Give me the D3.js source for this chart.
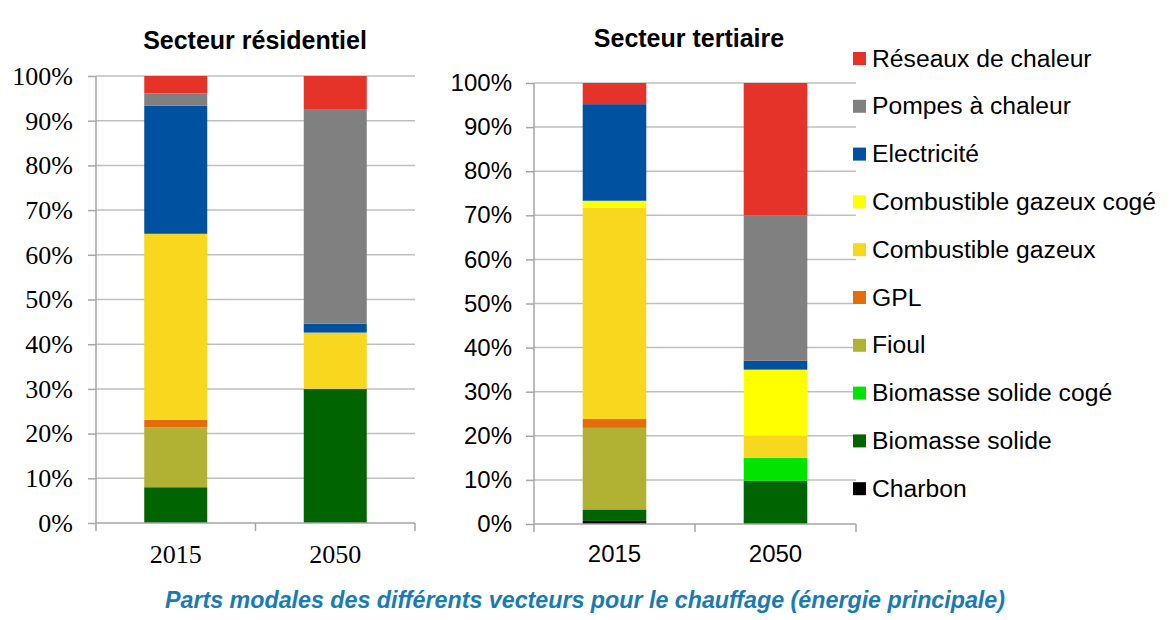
<!DOCTYPE html>
<html>
<head>
<meta charset="utf-8">
<script src="https://cdn.jsdelivr.net/npm/d3@7"></script>
<style>
  body { margin: 0; background: #fff; }
  .grid line { stroke: #bfbfbf; stroke-width: 1.5; }
  .axis path, .axis line { stroke: #a6a6a6; stroke-width: 1.5; }
</style>
</head>
<body>
<div id="chart"></div>
<script>
// legend order (top to bottom)
var categories = ["Réseaux de chaleur", "Pompes à chaleur", "Electricité",
    "Combustible gazeux cogé", "Combustible gazeux", "GPL", "Fioul",
    "Biomasse solide cogé", "Biomasse solide", "Charbon"];
var colors = ["#e5332a", "#808080", "#0052a0", "#ffff00", "#f8d81e",
    "#e46c0a", "#b1b233", "#00e400", "#006400", "#000000"];
var years = ["2015", "2050"];
var yTicks = [0, 10, 20, 30, 40, 50, 60, 70, 80, 90, 100];

// shares in %, same order as categories
var residentiel2015 = [3.9, 2.7, 28.7, 0, 41.6, 1.7, 13.4, 0, 8.0, 0];
var residentiel2050 = [7.4, 48.0, 2.0, 0, 12.6, 0, 0, 0, 30.0, 0];
var tertiaire2015 = [4.8, 0, 21.9, 1.6, 47.9, 2.0, 18.5, 0, 2.6, 0.7];
var tertiaire2050 = [30.0, 33.0, 2.0, 15.0, 5.0, 0, 0, 5.2, 9.8, 0];

var W = 1175, H = 620;
var svg = d3.select("#chart").append("svg")
    .attr("width", W).attr("height", H);

var color = d3.scaleOrdinal().domain(categories).range(colors);

function rows(v2015, v2050) {
    var out = [];
    [v2015, v2050].forEach(function (vals, j) {
        var r = {year: years[j]};
        categories.forEach(function (c, i) { r[c] = vals[i]; });
        out.push(r);
    });
    return out;
}

function chart(opts) {
    var data = rows(opts.v2015, opts.v2050);
    var x = d3.scaleBand().domain(years)
        .range([opts.x0, opts.x1])
        .paddingInner(0.605).paddingOuter(0.3025);
    var y = d3.scaleLinear().domain([0, 100]).range([opts.y0, opts.y1]);

    var g = svg.append("g");

    // gridlines
    g.append("g").attr("class", "grid")
        .selectAll("line").data(yTicks.slice(1)).enter().append("line")
        .attr("x1", opts.x0).attr("x2", opts.x1)
        .attr("y1", function (d) { return y(d); })
        .attr("y2", function (d) { return y(d); });

    // stacked bars, bottom series = last category
    var stack = d3.stack().keys(categories.slice().reverse());
    var series = stack(data);
    g.selectAll(".layer").data(series).enter().append("g")
        .attr("fill", function (d) { return color(d.key); })
        .selectAll("rect").data(function (d) { return d; }).enter().append("rect")
        .attr("x", function (d) { return x(d.data.year); })
        .attr("width", x.bandwidth())
        .attr("y", function (d) { return y(d[1]); })
        .attr("height", function (d) { return y(d[0]) - y(d[1]); });

    // y axis
    var yAxis = d3.axisLeft(y).tickValues(yTicks)
        .tickFormat(function (d) { return d + "%"; })
        .tickSize(8).tickPadding(opts.pad);
    var ya = g.append("g").attr("class", "axis")
        .attr("transform", "translate(" + opts.x0 + ",0)")
        .call(yAxis);
    ya.select(".domain").attr("d", "M0," + opts.y0 + "V" + opts.y1);
    ya.selectAll("text")
        .style("font-family", opts.font).style("font-size", opts.size + "px")
        .attr("fill", "#000");

    // x axis with ticks between categories
    var xa = g.append("g").attr("class", "axis")
        .attr("transform", "translate(0," + opts.y0 + ")");
    xa.append("line").attr("x1", opts.x0).attr("x2", opts.x1);
    var step = x.step();
    var tickPos = [opts.x0, x(years[0]) + x.bandwidth() / 2 + step / 2, opts.x1];
    xa.selectAll(".tk").data(tickPos).enter().append("line")
        .attr("x1", function (d) { return d; }).attr("x2", function (d) { return d; })
        .attr("y1", 0).attr("y2", 8);
    xa.selectAll("text").data(years).enter().append("text")
        .attr("x", function (d) { return x(d) + x.bandwidth() / 2; })
        .attr("y", opts.xLabY)
        .attr("text-anchor", "middle")
        .style("font-family", opts.font).style("font-size", opts.size + "px")
        .text(function (d) { return d; });

    // title
    svg.append("text")
        .attr("x", opts.tx).attr("y", opts.ty)
        .attr("text-anchor", "middle")
        .style("font-family", "'Liberation Sans', Arial, sans-serif")
        .style("font-weight", "bold").style("font-size", "25px")
        .text(opts.title);
}

chart({title: "Secteur résidentiel", v2015: residentiel2015, v2050: residentiel2050,
    x0: 96, x1: 415, y0: 523, y1: 76, tx: 255, ty: 49,
    font: "'Liberation Serif', 'DejaVu Serif', serif", size: 26, pad: 15, xLabY: 40});
chart({title: "Secteur tertiaire", v2015: tertiaire2015, v2050: tertiaire2050,
    x0: 534, x1: 856, y0: 524, y1: 83, tx: 689, ty: 47,
    font: "'Liberation Sans', Arial, sans-serif", size: 24, pad: 14, xLabY: 38});

// legend
var legend = svg.selectAll(".legend").data(categories).enter().append("g")
    .attr("class", "legend")
    .attr("transform", function (d, i) { return "translate(853," + (52 + i * 47.8) + ")"; });
legend.append("rect")
    .attr("width", 13).attr("height", 13)
    .attr("fill", function (d) { return color(d); });
legend.append("text")
    .attr("x", 19).attr("y", 14.5)
    .style("font-family", "'Liberation Sans', Arial, sans-serif")
    .style("font-size", "24.7px")
    .text(function (d) { return d; });

// caption
svg.append("text")
    .attr("x", 165).attr("y", 608)
    .attr("textLength", 840).attr("lengthAdjust", "spacingAndGlyphs")
    .style("font-family", "'Liberation Sans', Arial, sans-serif")
    .style("font-style", "italic").style("font-weight", "bold")
    .style("font-size", "23px")
    .attr("fill", "#1a7ab3")
    .text("Parts modales des différents vecteurs pour le chauffage (énergie principale)");
</script>
</body>
</html>
